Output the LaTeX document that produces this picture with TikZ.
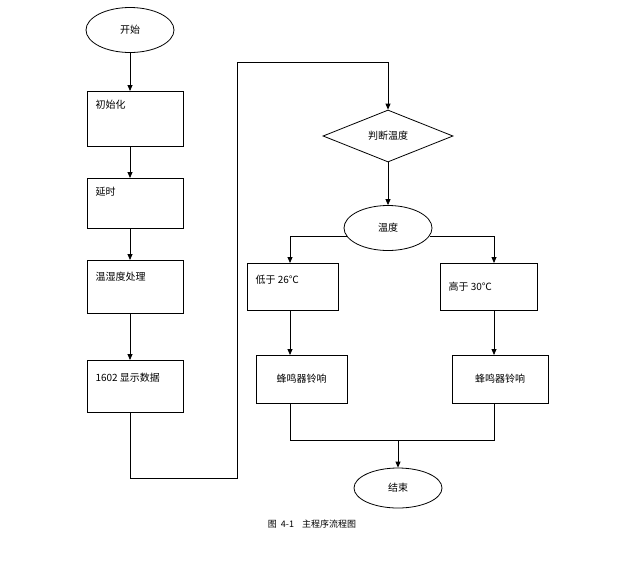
\documentclass[tikz,border=0pt]{standalone}
\usepackage{fontspec}
\setmainfont{Noto Sans CJK SC}
\usetikzlibrary{shapes.geometric,arrows.meta}
\begin{document}
\begin{tikzpicture}[x=1pt,y=-1pt,font=\fontsize{10}{12}\selectfont,
  box/.style={draw,thick,minimum width=96pt,minimum height=52pt},
  oval/.style={draw,thick,ellipse,minimum width=88pt,minimum height=45pt},
  dia/.style={draw,thick,diamond,aspect=2.5,minimum width=130pt,minimum height=52pt,inner sep=0pt},
  arr/.style={thick,-{Triangle[length=6pt,width=5pt]}},
  ln/.style={thick}]
\useasboundingbox (0,0) rectangle (623,579);
\node[oval] (start) at (130,30) {开始};
\node[box,minimum height=55pt] (init) at (135,118.5) {};
\node[anchor=west] at (92,105) {初始化};
\node[box,minimum height=50pt] (delay) at (135,203) {};
\node[anchor=west] at (92,192) {延时};
\node[box,minimum height=53pt] (proc) at (135,286.5) {};
\node[anchor=west] at (92,277) {温湿度处理};
\node[box,minimum height=52pt] (disp) at (135,386) {};
\node[anchor=west] at (92,378) {1602 显示数据};
\draw[arr] (start.south) -- (130,91);
\draw[arr] (130,146) -- (130,178);
\draw[arr] (130,228) -- (130,260);
\draw[arr] (130,313) -- (130,360);
\coordinate (c1) at (130,478);
\coordinate (c2) at (237,478);
\coordinate (c3) at (237,62);
\coordinate (c4) at (388,62);
\node[dia] (judge) at (388,136) {判断温度};
\draw[ln] (130,412) -- (c1) -- (c2) -- (c3) -- (c4);
\draw[arr] (c4) -- (judge.north);
\node[oval] (temp) at (388,228) {温度};
\draw[arr] (judge.south) -- (temp.north);
\node[draw,thick,minimum width=91pt,minimum height=47pt] (low) at (292.5,286.5) {};
\node[anchor=west] at (252,280) {低于 26℃};
\node[draw,thick,minimum width=97pt,minimum height=47pt] (high) at (488.5,286.5) {};
\node[anchor=west] at (445,287) {高于 30℃};
\coordinate (l0) at (346.5,236);
\coordinate (r0) at (429.5,236);
\coordinate (l1) at (290,236);
\coordinate (r1) at (494,236);
\draw[ln] (l0) -- (l1);
\draw[arr] (l1) -- (290,263);
\draw[ln] (r0) -- (r1);
\draw[arr] (r1) -- (494,263);
\node[draw,thick,minimum width=91pt,minimum height=48pt] (bz1) at (301.5,379) {蜂鸣器铃响};
\node[draw,thick,minimum width=96pt,minimum height=48pt] (bz2) at (500,379) {蜂鸣器铃响};
\draw[arr] (290,310) -- (290,355);
\draw[arr] (494,310) -- (494,355);
\node[oval,minimum height=40pt] (end) at (398,488) {结束};
\draw[ln] (290,403) -- (290,440) -- (494,440) -- (494,403);
\draw[arr] (398,440) -- (end.north);
\node[font=\fontsize{9}{11}\selectfont] (cap) at (312,524) {图\ \ 4-1\ \ \ \ 主程序流程图};
\end{tikzpicture}
\end{document}
